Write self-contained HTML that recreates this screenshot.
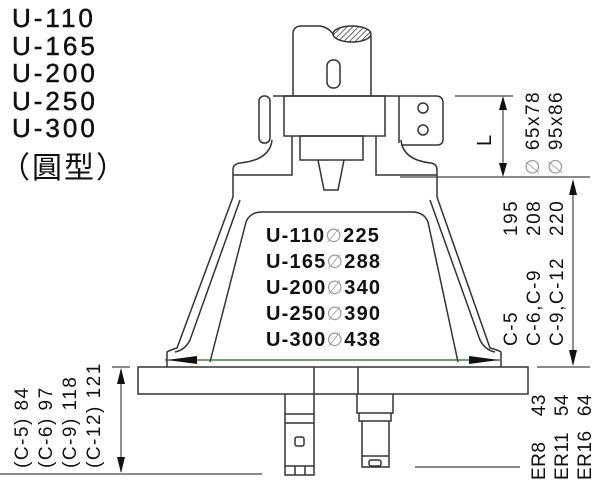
<!DOCTYPE html>
<html><head><meta charset="utf-8"><style>
html,body{margin:0;padding:0;background:#fff;}
svg{display:block;}
.t{font-family:"Liberation Sans","Noto Sans CJK TC",sans-serif;fill:#111;}
.d{font-family:"DejaVu Sans",sans-serif;fill:#999;font-weight:normal;}
</style></head><body>
<svg width="600" height="486" viewBox="0 0 600 486" xmlns="http://www.w3.org/2000/svg">
<defs>
<pattern id="h" width="4" height="4" patternUnits="userSpaceOnUse" patternTransform="rotate(45)"><rect width="4" height="4" fill="#fff"/><line x1="0" y1="0" x2="0" y2="4" stroke="#333" stroke-width="1.5"/></pattern>
</defs>
<g fill="none" stroke="#333" stroke-width="1.5">
<path d="M293,96 V34 Q293,27 300,26 H320 Q328,27 333,34 Q337,40 345,40"/>
<ellipse cx="352" cy="34" rx="19" ry="8" fill="url(#h)"/>
<path d="M371,36 V96"/>
<rect x="327" y="60" width="13" height="28" rx="6"/>
<rect x="259" y="96" width="11" height="47" rx="5"/>
<path d="M273,96 H436 Q443,96 443,103 V139 Q443,145 437,145 H401"/>
<circle cx="423" cy="108" r="5"/><circle cx="423" cy="130" r="5"/>
<rect x="284" y="96" width="101" height="40"/>
<path d="M399,96 V143"/>
<rect x="300" y="136" width="63" height="24"/>
<path d="M318,160 L324,190 H338 L344,160"/>
<path d="M272,140 Q270,160 240,163 Q233,164 233,170 V197"/>
<path d="M292,136 V175 H233"/>
<path d="M401,140 Q403,160 431,163 Q437,164 437,170 V197"/>
<path d="M376,136 V175 H437"/>
<path d="M233,197 L177,348 Q170,350 167,352 V367"/>
<path d="M240,200 L190,340 Q185,350 175,352"/>
<path d="M437,197 L490,348 Q498,350 501,352 V367"/>
<path d="M430,200 L480,340 Q485,350 495,352"/>
<path d="M210,362 L246,222 Q250,212 262,212 H412 Q424,212 428,222 L458,362"/>
<rect x="138" y="367" width="390" height="27"/>
<path d="M314,367 V394"/><path d="M358,367 V394"/>
<path d="M285,394 V475 H314 V394"/>
<path d="M285,414 H314 M285,423 H314 M285,466 H314 M295,466 V475 M305,466 V475"/>
<rect x="295" y="437" width="9" height="9" rx="2"/>
<path d="M357,394 V413 H393 V394"/>
<path d="M359,413 V421 H391 V413"/>
<path d="M362,421 V467 H389 V421"/>
<path d="M362,456 H389"/>
<rect x="369" y="460" width="12" height="6" rx="2"/>
</g>
<g stroke="#444" stroke-width="1.2" fill="none">
<path d="M455,96 H513"/><path d="M400,177 H590"/>
<path d="M503,100 V173"/>
<path d="M573,182 V363"/>
<path d="M537,367 H590"/>
<path d="M415,467 H520"/>
<path d="M0,474 H262"/>
<path d="M112,367 H130"/>
<path d="M121,370 V472"/>
<path d="M165,360 H500" stroke="#2a5a2a"/>
</g>
<g fill="#111">
<path d="M503,96 L499,110 H507Z"/><path d="M503,177 L499,163 H507Z"/>
<path d="M573,179 L569,195 H577Z"/><path d="M573,366 L569,350 H577Z"/>
<path d="M121,368 L117,384 H125Z"/><path d="M121,473 L117,457 H125Z"/>
<path d="M167,360 L197,356 V364Z"/><path d="M499,360 L469,356 V364Z"/>
</g>
<g class="t" font-size="26" letter-spacing="3" stroke="#111" stroke-width="0.5">
<text x="12" y="27">U-110</text>
<text x="12" y="55">U-165</text>
<text x="12" y="82">U-200</text>
<text x="12" y="110">U-250</text>
<text x="12" y="137">U-300</text>
</g>
<text class="t" x="0" y="178" font-size="30" letter-spacing="2">（圓型）</text>
<g class="t" font-size="20" font-weight="bold" letter-spacing="1.2">
<text x="266" y="242">U-110<tspan class="d" font-size="19">∅</tspan>225</text>
<text x="266" y="268">U-165<tspan class="d" font-size="19">∅</tspan>288</text>
<text x="266" y="294">U-200<tspan class="d" font-size="19">∅</tspan>340</text>
<text x="266" y="320">U-250<tspan class="d" font-size="19">∅</tspan>390</text>
<text x="266" y="346">U-300<tspan class="d" font-size="19">∅</tspan>438</text>
</g>
<g class="t" font-size="19" letter-spacing="1.5">
<text transform="translate(491,146) rotate(-90)" font-size="20">L</text>
<text transform="translate(539,175) rotate(-90)"><tspan class="d">∅</tspan> 65x78</text>
<text transform="translate(562,175) rotate(-90)"><tspan class="d">∅</tspan> 95x86</text>
<text transform="translate(517,236) rotate(-90)">195</text>
<text transform="translate(540,236) rotate(-90)">208</text>
<text transform="translate(563,236) rotate(-90)">220</text>
<text transform="translate(517,346) rotate(-90)">C-5</text>
<text transform="translate(540,346) rotate(-90)">C-6,C-9</text>
<text transform="translate(563,346) rotate(-90)">C-9,C-12</text>
<text transform="translate(28,468) rotate(-90)">(C-5) 84</text>
<text transform="translate(52,468) rotate(-90)">(C-6) 97</text>
<text transform="translate(76,468) rotate(-90)">(C-9) 118</text>
<text transform="translate(100,468) rotate(-90)">(C-12) 121</text>
</g>
<g class="t" font-size="19" letter-spacing="0.5">
<text transform="translate(545,394) rotate(-90)" text-anchor="end">43</text>
<text transform="translate(568,394) rotate(-90)" text-anchor="end">54</text>
<text transform="translate(591,394) rotate(-90)" text-anchor="end">64</text>
<text transform="translate(545,480) rotate(-90)">ER8</text>
<text transform="translate(568,480) rotate(-90)">ER11</text>
<text transform="translate(591,480) rotate(-90)">ER16</text>
</g>
</svg>
</body></html>
